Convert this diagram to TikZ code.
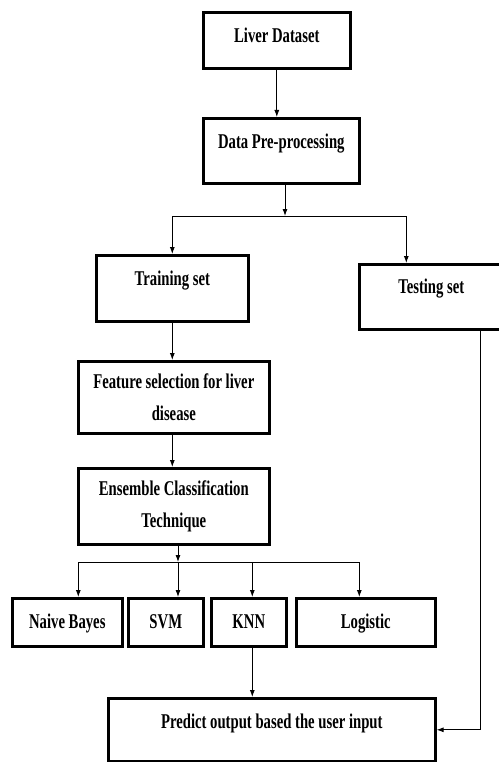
\documentclass[tikz,border=0pt]{standalone}
\usepackage{fontspec}
\setmainfont{Liberation Serif}[FakeStretch=0.7]
\usetikzlibrary{arrows.meta}

\tikzset{
  box/.style={draw, line width=2.6pt, anchor=north west, inner sep=0pt, align=center,
    font=\fontsize{21}{32}\selectfont\bfseries},
  topbox/.style={box, text height=30pt},
  flow/.style={line width=0.9pt},
}

\begin{document}
\begin{tikzpicture}[x=1pt, y=-1pt, >={Latex[length=7pt,width=5pt]}]
  \useasboundingbox (0,0) rectangle (498,762);
  % boxes
  \node[topbox, minimum width=147pt, minimum height=56pt, text depth=26pt] (data) at (202,11) {Liver Dataset};
  \node[topbox, minimum width=156pt, minimum height=65pt, text depth=35pt] (prep) at (202,117) {Data Pre-processing};
  \node[topbox, minimum width=152pt, minimum height=66pt, text depth=36pt] (train) at (95,254) {Training set};
  \node[topbox, minimum width=144pt, minimum height=65pt, text height=29pt, text depth=36pt] (test) at (358,263) {Testing set};
  \node[box, minimum width=191pt, minimum height=72pt] (feat) at (77,360) {Feature selection for liver\\disease};
  \node[box, minimum width=191pt, minimum height=76pt] (ens) at (77,467) {Ensemble Classification\\Technique};
  \node[topbox, minimum width=110pt, minimum height=48pt, text depth=18pt] (nb) at (11,597) {Naive Bayes};
  \node[topbox, minimum width=75pt, minimum height=48pt, text depth=18pt] (svm) at (127,597) {SVM};
  \node[topbox, minimum width=75pt, minimum height=48pt, text depth=18pt] (knn) at (210,597) {KNN};
  \node[topbox, minimum width=139pt, minimum height=48pt, text depth=18pt] (logit) at (295,597) {Logistic};
  \node[topbox, minimum width=327pt, minimum height=63pt, text depth=33pt] (pred) at (107,697) {Predict output based the user input};
  % forks
  \coordinate (fork1) at (285,216);
  \coordinate (fork2) at (178,562);
  % connectors
  \draw[flow,->] (data.south) -- (data.south |- prep.north);
  \draw[flow,->] (prep.south -| fork1) -- (fork1);
  \draw[flow,->] (fork1) -| (train.north);
  \draw[flow,->] (fork1) -| ([xshift=-25pt]test.north);
  \draw[flow,->] (train.south) -- (train.south |- feat.north);
  \draw[flow,->] (feat.south -| train.south) -- (ens.north -| train.south);
  \draw[flow,->] (ens.south -| fork2) -- (fork2);
  \draw[flow,->] (fork2) -| ([xshift=11pt]nb.north);
  \draw[flow,->] (fork2) -- (fork2 |- svm.north);
  \draw[flow,->] (fork2) -| ([xshift=3.5pt]knn.north);
  \draw[flow,->] (fork2) -| ([xshift=-6.5pt]logit.north);
  \draw[flow,->] ([xshift=3.5pt]knn.south) -- ([xshift=3.5pt]knn.south |- pred.north);
  \draw[flow,->] ([xshift=49pt]test.south) |- (pred.east);
\end{tikzpicture}
\end{document}
